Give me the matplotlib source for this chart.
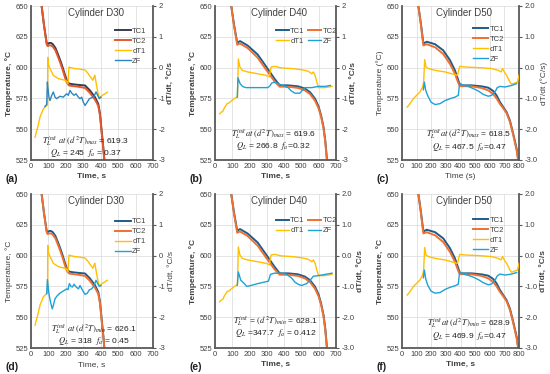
import matplotlib
matplotlib.use("Agg")
import matplotlib.pyplot as plt

plt.rcParams['font.family'] = ['Liberation Sans Narrow', 'Liberation Sans', 'DejaVu Sans']
plt.rcParams['mathtext.fontset'] = 'stix'
plt.rcParams['axes.unicode_minus'] = False

# ---------------- data ----------------
# Cylinder D30
t_tc30 = [61, 75, 90, 95, 105, 115, 125, 140, 157, 170, 182, 195, 205, 218, 240, 270, 310, 338, 367, 386, 396, 405, 415, 421]
tc1_30 = [650, 634, 620, 619, 620, 620, 619, 616, 610, 605, 600, 594, 590, 587, 586.5, 586, 585.5, 581.5, 576, 570.5, 562.5, 549, 535, 525]
tc2_30 = [650, 634, 619, 617.5, 618, 618, 617, 614, 608, 603, 598, 592, 588, 585.5, 585, 584.5, 583.5, 579.5, 574, 569, 561, 548, 534, 524]
t_dt30 = [23, 40, 52, 71, 90, 95, 96, 100, 109, 128, 157, 195, 205, 212, 218, 226, 250, 280, 310, 325, 338, 355, 362, 366, 380, 390, 396, 410, 438]
dt1_30 = [-2.26, -1.9, -1.6, -1.34, -1.23, -1.2, 0.33, 0.1, -0.03, -0.25, -0.36, -0.41, -0.45, -0.52, 0.02, 0.0, -0.03, -0.05, -0.08, -0.17, -0.28, -0.41, -0.3, -0.25, -0.7, -0.96, -0.96, -0.9, -0.8]
t_zf30a = [80, 90, 94, 96, 103, 109, 119, 128, 138, 147, 166, 185, 195, 205, 214, 224, 234, 247, 258, 272, 281, 291, 300, 310, 323, 335, 348, 362, 373, 383, 392, 402]
zf_30a = [-1.26, -1.2, -0.47, -0.6, -0.96, -1.07, -0.9, -0.79, -0.96, -1.01, -0.93, -0.96, -0.9, -0.85, -0.9, -0.74, -0.83, -0.9, -0.85, -0.96, -1.01, -0.96, -1.12, -1.23, -1.12, -1.01, -0.98, -0.93, -0.79, -0.9, -1.01, -0.96]
t_zf30d = [90, 94, 103, 112, 122, 128, 138, 151, 166, 185, 205, 212, 220, 230, 238, 247, 259, 272, 281, 296, 310, 323, 335, 348, 362, 373, 383, 392, 402]
zf_30d = [-1.24, -0.78, -1.24, -1.51, -1.73, -1.62, -1.4, -1.3, -1.22, -1.15, -1.08, -1.11, -0.91, -1.0, -1.02, -0.93, -1.02, -1.08, -0.97, -1.13, -1.26, -1.22, -1.11, -1.08, -0.97, -0.8, -0.91, -1.0, -0.97]

# Cylinder D40
t_tc40 = [94, 110, 129, 135, 145, 188, 247, 305, 344, 374, 423, 481, 520, 550, 579, 599, 614, 628, 638, 648]
tc1_40 = [650, 635, 619.6, 620.8, 621.5, 618, 610.6, 599, 591, 585.6, 585.6, 584.8, 583, 580, 574.7, 568.5, 561, 551.6, 540.8, 525]
tc2_40 = [650, 634, 618.5, 619.2, 619.5, 616, 608, 596.5, 589, 584.5, 584.5, 583.5, 581.5, 578.5, 573, 567, 560, 550.5, 539.5, 524]
t_dt40 = [27, 35, 45, 55, 70, 80, 95, 110, 125, 130, 135, 144, 158, 188, 247, 295, 315, 320, 325, 345, 384, 442, 501, 540, 560, 569, 579, 589, 599, 620, 638, 677]
dt1_40 = [-1.5, -1.45, -1.42, -1.3, -1.17, -1.15, -1.08, -1.01, -0.96, -0.93, 0.28, 0.02, -0.09, -0.14, -0.2, -0.25, -0.3, -0.1, 0.02, 0.04, -0.01, -0.03, -0.07, -0.12, -0.2, -0.14, -0.25, -0.47, -0.65, -0.65, -0.65, -0.61]
t_zf40b = [129, 133, 145, 159, 178, 247, 305, 315, 329, 344, 364, 393, 423, 442, 462, 491, 505, 520, 560, 599, 638, 667]
zf_40b = [-0.96, -0.33, -0.52, -0.61, -0.65, -0.65, -0.65, -0.61, -0.5, -0.47, -0.52, -0.58, -0.65, -0.76, -0.83, -0.83, -0.74, -0.65, -0.65, -0.61, -0.61, -0.58]
t_zf40e = [129, 135, 149, 168, 184, 208, 247, 286, 309, 321, 344, 384, 413, 442, 462, 481, 501, 530, 550, 569, 599, 638, 677]
zf_40e = [-0.96, -0.53, -0.8, -0.9, -1.0, -0.97, -0.91, -0.86, -0.83, -0.61, -0.57, -0.57, -0.61, -0.72, -0.86, -0.93, -0.97, -0.91, -0.8, -0.67, -0.65, -0.61, -0.57]

# Cylinder D50
t_tc50 = [112, 130, 146, 169, 226, 282, 328, 362, 385, 396, 476, 544, 590, 624, 647, 670, 692, 715, 738, 761, 784, 795]
tc1_50 = [650, 635, 619.6, 621, 619, 614, 606, 597.8, 589.7, 585.6, 585.6, 584.8, 583.7, 581, 577.4, 572, 568, 563.9, 557, 546, 534, 525]
tc2_50 = [650, 634, 618, 619, 616.5, 611, 603, 595, 587.5, 585, 584.8, 583.5, 581.5, 578.5, 575, 570.5, 567, 563, 556, 545, 533, 524]
t_dt50 = [36, 55, 77, 100, 123, 139, 148, 155, 164, 180, 226, 294, 339, 380, 390, 396, 431, 522, 613, 658, 677, 688, 699, 715, 738, 749, 772, 790, 800]
dt1_50 = [-1.28, -1.17, -1.01, -0.9, -0.79, -0.65, -0.47, 0.26, 0.02, -0.03, -0.09, -0.14, -0.2, -0.25, -0.03, 0.04, 0.02, 0.0, -0.03, -0.09, -0.14, -0.03, -0.14, -0.25, -0.47, -0.54, -0.5, -0.47, -0.25]
t_zf50c = [146, 153, 162, 175, 198, 226, 260, 294, 328, 362, 385, 394, 419, 453, 487, 522, 556, 590, 613, 636, 651, 670, 704, 749, 784]
zf_50c = [-0.72, -0.47, -0.74, -0.9, -1.12, -1.2, -1.17, -1.07, -1.01, -0.96, -0.9, -0.5, -0.58, -0.61, -0.68, -0.76, -0.87, -0.93, -0.9, -0.79, -0.65, -0.61, -0.63, -0.58, -0.52]
t_zf50f = [146, 153, 162, 175, 198, 226, 260, 294, 328, 362, 385, 394, 419, 453, 487, 522, 556, 590, 613, 636, 651, 670, 704, 749, 784]
zf_50f = [-0.72, -0.47, -0.75, -0.95, -1.15, -1.22, -1.2, -1.1, -1.03, -0.98, -0.93, -0.52, -0.6, -0.64, -0.7, -0.78, -0.88, -0.95, -0.92, -0.8, -0.66, -0.6, -0.63, -0.6, -0.55]

temp_ticks = [525, 550, 575, 600, 625, 650]
rate_ticks = [-3, -2, -1, 0, 1, 2]

GRID = '#D9D9D9'
SPINE = '#595959'
TXT = '#404040'

fig = plt.figure(figsize=(5.5, 3.74), dpi=100)


def panel(rect, letter, title, t_tc, tc1, tc2, t_dt, dt1, t_zf, zf, xmax, rate_fmt,
          units_paren, bold_lab, colors, legend_pos, legend_cols, ann, ann_pos):
    ax = fig.add_axes(rect)
    ax.set_xlim(0, xmax)
    ax.set_ylim(525, 650)
    ax.set_xticks(range(0, xmax + 1, 100))
    ax.set_yticks(temp_ticks)
    ax.grid(True, color=GRID, lw=0.5)
    ax.set_axisbelow(True)
    ax.spines['top'].set_visible(False)
    for s in ['left', 'bottom', 'right']:
        ax.spines[s].set_color(SPINE)
        ax.spines[s].set_linewidth(1.3)
    ax.tick_params(axis='both', labelsize=5.5, colors=SPINE, length=0, pad=2)
    for lab in ax.get_xticklabels() + ax.get_yticklabels():
        lab.set_color(TXT)
    c1, c2, c3, c4 = colors
    l1, = ax.plot(t_tc, tc1, color=c1, lw=1.4, label='TC1')
    l2, = ax.plot(t_tc, tc2, color=c2, lw=1.4, label='TC2')
    ax2 = ax.twinx()
    ax2.set_ylim(-3, 2)
    ax2.set_yticks(rate_ticks)
    ax2.set_yticklabels([rate_fmt.format(v) for v in rate_ticks])
    ax2.tick_params(axis='y', labelsize=5.5, colors=SPINE, length=2, width=0.8, pad=2)
    for lab in ax2.get_yticklabels():
        lab.set_color(TXT)
    for s in ax2.spines.values():
        s.set_visible(False)
    l3, = ax2.plot(t_dt, dt1, color=c3, lw=1.0, label='dT1')
    l4, = ax2.plot(t_zf, zf, color=c4, lw=1.0, label='ZF')
    fw = 'bold' if bold_lab else 'normal'
    if units_paren:
        ylab, rlab, xlab = 'Temperature (°C)', 'dT/dt (°C/s)', 'Time (s)'
    else:
        ylab, rlab, xlab = 'Temperature, °C', 'dT/dt, °C/s', 'Time, s'
    ax.set_ylabel(ylab, fontsize=6, color=TXT, fontweight=fw, labelpad=2)
    ax2.set_ylabel(rlab, fontsize=6, color=TXT, fontweight=fw, labelpad=2)
    ax.set_xlabel(xlab, fontsize=6, color=TXT, fontweight=fw, labelpad=2)
    ax.text(0.53, 0.955, title, transform=ax.transAxes, ha='center', va='center',
            fontsize=7, color=TXT)
    if legend_cols == 2:
        handles, labels = [l1, l3, l2, l4], ['TC1', 'dT1', 'TC2', 'ZF']
        hl, cs = 1.7, 0.5
    else:
        handles, labels = [l1, l2, l3, l4], ['TC1', 'TC2', 'dT1', 'ZF']
        hl, cs = 2.0, 0.6
    ax2.legend(handles, labels, loc='upper left',
               bbox_to_anchor=legend_pos, ncol=legend_cols, frameon=False,
               fontsize=5.5, handlelength=hl, handletextpad=0.2,
               labelspacing=0.35, columnspacing=cs, borderpad=0.0,
               labelcolor=TXT)
    ax2.text(ann_pos[0], ann_pos[1], ann[0], transform=ax.transAxes, ha='center',
             va='center', fontsize=6.1, color='#202020')
    ax2.text(ann_pos[0], ann_pos[2], ann[1], transform=ax.transAxes, ha='center',
             va='center', fontsize=6.1, color='#202020')
    fig.text(rect[0] - 0.047, rect[1] - 0.05, letter, fontsize=7.5, fontweight='bold',
             color='#202020', ha='left', va='center')
    return ax


col_a = ['#333F50', '#E8572A', '#FFC000', '#2E86C1']
col_o = ['#1F5C8A', '#F07030', '#FFC000', '#1FA0D8']

W, H = 550, 374
def rect(x0, x1, y0, y1):
    return [x0 / W, 1 - y1 / H, (x1 - x0) / W, (y1 - y0) / H]

panel(rect(31, 153, 6, 160), '(a)', 'Cylinder D30', t_tc30, tc1_30, tc2_30, t_dt30, dt1_30,
      t_zf30a, zf_30a, 700, '{:d}', False, True, col_a, (0.66, 0.885), 1,
      (r'$T_L^{init}\ at\ (d^2T)_{max}$ = 619.3', r'$Q_L$ = 245  $f_a$ = 0.37'), (0.45, 0.125, 0.045))
panel(rect(215, 336, 6, 160), '(b)', 'Cylinder D40', t_tc40, tc1_40, tc2_40, t_dt40, dt1_40,
      t_zf40b, zf_40b, 700, '{:d}', False, True, col_o, (0.47, 0.885), 2,
      (r'$T_L^{init}at\ (d^2T)_{max}$ = 619.6', r'$Q_L$ = 266.8  $f_a$=0.32'), (0.48, 0.17, 0.09))
panel(rect(402, 519, 6, 160), '(c)', 'Cylinder D50', t_tc50, tc1_50, tc2_50, t_dt50, dt1_50,
      t_zf50c, zf_50c, 800, '{:.1f}', True, False, col_o, (0.57, 0.9), 1,
      (r'$T_L^{init}at\ \left(d^2T\right)_{max}$ = 618.5', r'$Q_L$ = 467.5  $f_a$=0.47'), (0.57, 0.165, 0.085))
panel(rect(31, 153, 194, 348), '(d)', 'Cylinder D30', t_tc30, tc1_30, tc2_30, t_dt30, dt1_30,
      t_zf30d, zf_30d, 700, '{:d}', False, False, col_o, (0.66, 0.87), 1,
      (r'$T_L^{init}\ at\ (d^2T)_{min}$ = 626.1', r'$Q_L$ = 318  $f_a$ = 0.45'), (0.52, 0.125, 0.045))
panel(rect(215, 336, 194, 348), '(e)', 'Cylinder D40', t_tc40, tc1_40, tc2_40, t_dt40, dt1_40,
      t_zf40e, zf_40e, 700, '{:.1f}', False, True, col_o, (0.47, 0.875), 2,
      (r'$T_L^{init}$ = $(d^2T)_{min}$ = 628.1', r'$Q_L$ =347.7  $f_a$ = 0.412'), (0.5, 0.175, 0.095))
panel(rect(402, 519, 194, 348), '(f)', 'Cylinder D50', t_tc50, tc1_50, tc2_50, t_dt50, dt1_50,
      t_zf50f, zf_50f, 800, '{:.1f}', False, True, col_o, (0.57, 0.88), 1,
      (r'$T_L^{init}at\ \left(d^2T\right)_{min}$ = 628.9', r'$Q_L$ = 469.9  $f_a$=0.47'), (0.57, 0.16, 0.08))

fig.savefig('out.png', dpi=100)
